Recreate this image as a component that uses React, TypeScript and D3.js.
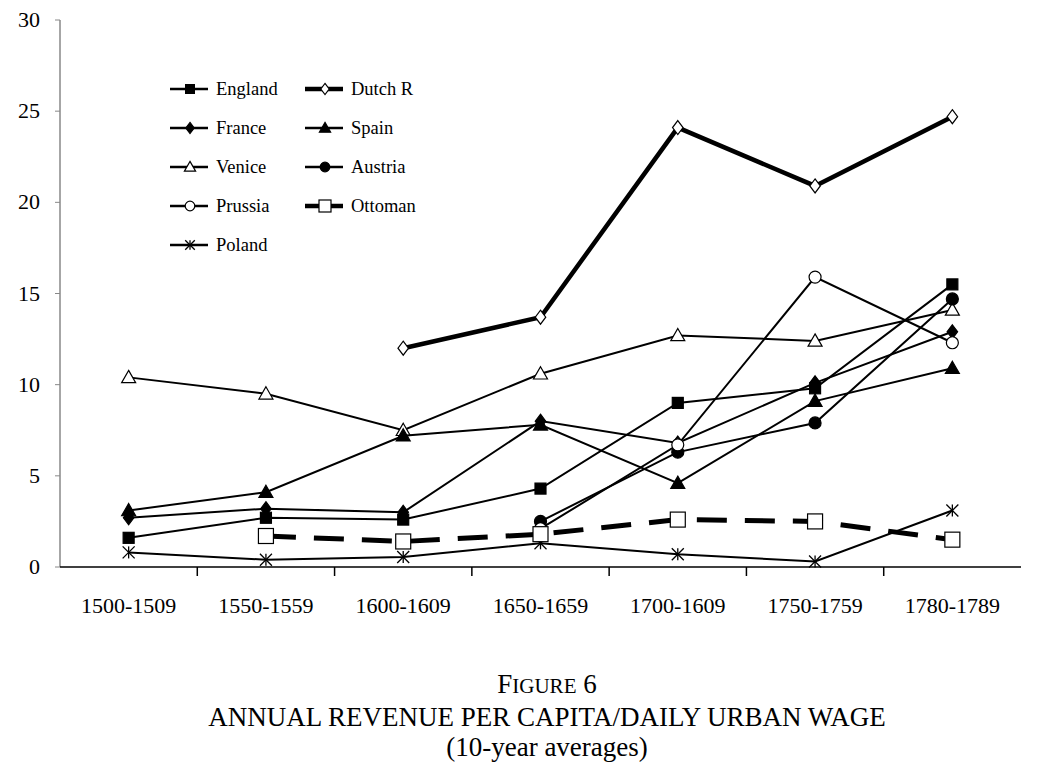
import React from 'react'
import * as d3 from 'd3'

const periods = ['1500-1509', '1550-1559', '1600-1609', '1650-1659', '1700-1609', '1750-1759', '1780-1789']
const yTicks = [0, 5, 10, 15, 20, 25, 30]

type V = number | null
const england: V[] = [1.6, 2.7, 2.6, 4.3, 9.0, 9.8, 15.5]
const dutch: V[] = [null, null, 12.0, 13.7, 24.1, 20.9, 24.7]
const france: V[] = [2.7, 3.2, 3.0, 8.0, 6.8, 10.1, 12.9]
const spain: V[] = [3.1, 4.1, 7.2, 7.8, 4.6, 9.1, 10.9]
const venice: V[] = [10.4, 9.5, 7.5, 10.6, 12.7, 12.4, 14.1]
const austria: V[] = [null, null, null, 2.5, 6.3, 7.9, 14.7]
const prussia: V[] = [null, null, null, 2.1, 6.7, 15.9, 12.3]
const ottoman: V[] = [null, 1.7, 1.4, 1.8, 2.6, 2.5, 1.5]
const poland: V[] = [0.8, 0.4, 0.55, 1.3, 0.7, 0.3, 3.1]

type Marker = 'square' | 'diamond' | 'triangle' | 'circle' | 'star'
interface S { name: string; values: V[]; marker: Marker; fill: string; width: number; dash?: string; size: number }
const series: S[] = [
  { name: 'Venice', values: venice, marker: 'triangle', fill: 'white', width: 2, size: 7 },
  { name: 'Spain', values: spain, marker: 'triangle', fill: 'black', width: 2, size: 7 },
  { name: 'France', values: france, marker: 'diamond', fill: 'black', width: 2, size: 7 },
  { name: 'England', values: england, marker: 'square', fill: 'black', width: 2, size: 11 },
  { name: 'Austria', values: austria, marker: 'circle', fill: 'black', width: 2, size: 6 },
  { name: 'Prussia', values: prussia, marker: 'circle', fill: 'white', width: 2, size: 6 },
  { name: 'Poland', values: poland, marker: 'star', fill: 'none', width: 2, size: 6 },
  { name: 'Ottoman', values: ottoman, marker: 'square', fill: 'white', width: 5, dash: '30,18', size: 15 },
  { name: 'Dutch R', values: dutch, marker: 'diamond', fill: 'white', width: 4.5, size: 7 },
]
const legendOrder = ['England', 'Dutch R', 'France', 'Spain', 'Venice', 'Austria', 'Prussia', 'Ottoman', 'Poland']

function Mark({ m, x, y }: { m: S; x: number; y: number }) {
  const s = m.size
  const common = { fill: m.fill, stroke: 'black', strokeWidth: 1.2 }
  if (m.marker === 'square') return <rect x={x - s / 2} y={y - s / 2} width={s} height={s} {...common} />
  if (m.marker === 'circle') return <circle cx={x} cy={y} r={s} {...common} />
  if (m.marker === 'diamond') return <path d={`M${x},${y - s}L${x + s * 0.75},${y}L${x},${y + s}L${x - s * 0.75},${y}Z`} {...common} />
  if (m.marker === 'triangle') return <path d={`M${x},${y - s}L${x + s},${y + s * 0.75}L${x - s},${y + s * 0.75}Z`} {...common} />
  return (
    <g stroke="black" strokeWidth={1.3}>
      <line x1={x - s} x2={x + s} y1={y - s} y2={y + s} />
      <line x1={x - s} x2={x + s} y1={y + s} y2={y - s} />
      <line x1={x} x2={x} y1={y - s} y2={y + s} />
    </g>
  )
}

export default function App() {
  const left = 60, right = 1021, top = 20, bottom = 567
  const x = d3.scaleBand().domain(periods).range([left, right])
  const y = d3.scaleLinear().domain([0, 30]).range([bottom, top])
  const cx = (i: number) => (x(periods[i]) as number) + x.bandwidth() / 2
  const line = d3.line<V>().defined((d) => d !== null).x((_, i) => cx(i)).y((d) => y(d as number))
  const font = 'Liberation Serif, Times New Roman, serif'
  return (
    <svg width={1046} height={770} style={{ position: 'absolute', left: 0, top: 0, background: 'white' }} fontFamily={font}>
      <line x1={left} x2={left} y1={top} y2={bottom} stroke="#888" strokeWidth={1.5} />
      <line x1={left} x2={right} y1={bottom} y2={bottom} stroke="black" strokeWidth={1.5} />
      {yTicks.map((t) => (
        <g key={t}>
          <line x1={left - 5} x2={left} y1={y(t)} y2={y(t)} stroke="#888" />
          <text x={left - 20} y={y(t) + 7} textAnchor="end" fontSize={22}>{t}</text>
        </g>
      ))}
      {periods.map((p, i) => (
        <g key={p}>
          {i > 0 && <line x1={x(p)} x2={x(p)} y1={bottom} y2={bottom + 9} stroke="black" strokeWidth={1.5} />}
          <text x={cx(i)} y={bottom + 46} textAnchor="middle" fontSize={22}>{p}</text>
        </g>
      ))}
      {series.map((s) => (
        <g key={s.name}>
          <path d={line(s.values) || ''} fill="none" stroke="black" strokeWidth={s.width} strokeDasharray={s.dash} />
          {s.values.map((v, i) => (v === null ? null : <Mark key={i} m={s} x={cx(i)} y={y(v)} />))}
        </g>
      ))}
      {legendOrder.map((n, k) => {
        const s = series.find((d) => d.name === n) as S
        const col = k % 2, row = Math.floor(k / 2)
        const lx = col === 0 ? 170 : 305
        const ly = 89 + row * 39
        return (
          <g key={n}>
            <line x1={lx} x2={lx + 38} y1={ly} y2={ly} stroke="black" strokeWidth={s.width === 2 ? 2.5 : 4.5} />
            <Mark m={{ ...s, size: s.marker === 'square' && s.fill === 'white' ? 12 : s.size * 0.8 }} x={lx + 20} y={ly} />
            <text x={lx + 46} y={ly + 6} fontSize={18.5}>{n}</text>
          </g>
        )
      })}
      <text x={547} y={693} textAnchor="middle" fontSize={27}>F<tspan fontSize={21}>IGURE</tspan> 6</text>
      <text x={547} y={726} textAnchor="middle" fontSize={27}>ANNUAL REVENUE PER CAPITA/DAILY URBAN WAGE</text>
      <text x={547} y={756} textAnchor="middle" fontSize={27}>(10-year averages)</text>
    </svg>
  )
}
